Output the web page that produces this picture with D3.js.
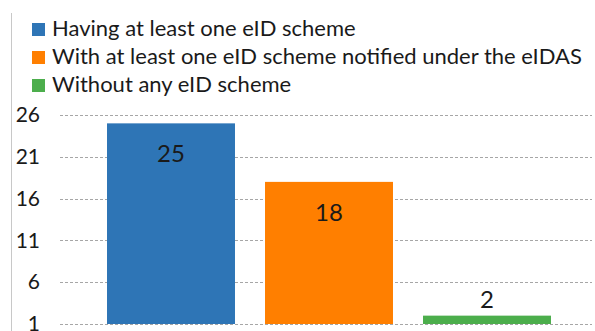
<!DOCTYPE html>
<html>
<head>
<meta charset="utf-8">
<script src="https://cdn.jsdelivr.net/npm/d3@7"></script>
<style>
  body { margin: 0; background: #fff; }
  text { font-family: Lato, "Open Sans", sans-serif; }
</style>
</head>
<body>
<div id="chart"></div>
<script>
const categories = [
  'Having at least one eID scheme',
  'With at least one eID scheme notified under the eIDAS',
  'Without any eID scheme'
];
const values = [25, 18, 2];
const colors = ['#2e75b6', '#ff7f00', '#4cae4c'];
const yTicks = [1, 6, 11, 16, 21, 26];

const width = 595;
const height = 331;

const svg = d3
  .select('#chart')
  .append('svg')
  .attr('width', width)
  .attr('height', height);

// left frame line
svg
  .append('line')
  .attr('x1', 11.5)
  .attr('x2', 11.5)
  .attr('y1', 13)
  .attr('y2', height)
  .attr('stroke', '#c8c8c8')
  .attr('stroke-width', 1);

const yScale = d3.scaleLinear().domain([1, 26]).range([324, 115]);

const xScale = d3
  .scaleBand()
  .domain(categories)
  .range([92, 566])
  .paddingInner(0.19)
  .paddingOuter(0.095);

// gridlines
svg
  .selectAll('.grid')
  .data(yTicks)
  .enter()
  .append('line')
  .attr('class', 'grid')
  .attr('x1', 60)
  .attr('x2', 592)
  .attr('y1', (d) => Math.round(yScale(d)) + 0.5)
  .attr('y2', (d) => Math.round(yScale(d)) + 0.5)
  .attr('stroke', '#a6a6a6')
  .attr('stroke-dasharray', '3,2')
  .attr('stroke-width', 1);

// y tick labels
const yAxis = svg
  .append('g')
  .attr('transform', 'translate(40,0)')
  .call(d3.axisLeft(yScale).tickValues(yTicks).tickSize(0).tickPadding(0));
yAxis.select('.domain').remove();
yAxis
  .selectAll('text')
  .style('font-family', 'Lato, "Open Sans", sans-serif')
  .style('font-size', '21px')
  .attr('fill', '#1a1a1a');

// bars
svg
  .selectAll('.bar')
  .data(values)
  .enter()
  .append('rect')
  .attr('class', 'bar')
  .attr('x', (d, i) => xScale(categories[i]))
  .attr('y', (d) => yScale(d))
  .attr('width', xScale.bandwidth())
  .attr('height', (d) => yScale(1) - yScale(d))
  .attr('fill', (d, i) => colors[i]);

// value labels
svg
  .selectAll('.val')
  .data(values)
  .enter()
  .append('text')
  .attr('class', 'val')
  .attr('x', (d, i) => xScale(categories[i]) + xScale.bandwidth() / 2)
  .attr('y', (d) => {
    const top = yScale(d);
    return yScale(1) - top > 40 ? top + 39 : top - 8;
  })
  .attr('text-anchor', 'middle')
  .style('font-size', '24px')
  .attr('fill', '#1a1a1a')
  .text((d) => d);

// legend
const legend = svg
  .selectAll('.legend')
  .data(categories)
  .enter()
  .append('g')
  .attr('class', 'legend')
  .attr('transform', (d, i) => `translate(32,${23 + i * 28})`);

legend
  .append('rect')
  .attr('width', 13)
  .attr('height', 13)
  .attr('fill', (d, i) => colors[i]);

legend
  .append('text')
  .attr('x', 20)
  .attr('y', 13)
  .style('font-size', '22px')
  .attr('fill', '#1a1a1a')
  .text((d) => d);
</script>
</body>
</html>
